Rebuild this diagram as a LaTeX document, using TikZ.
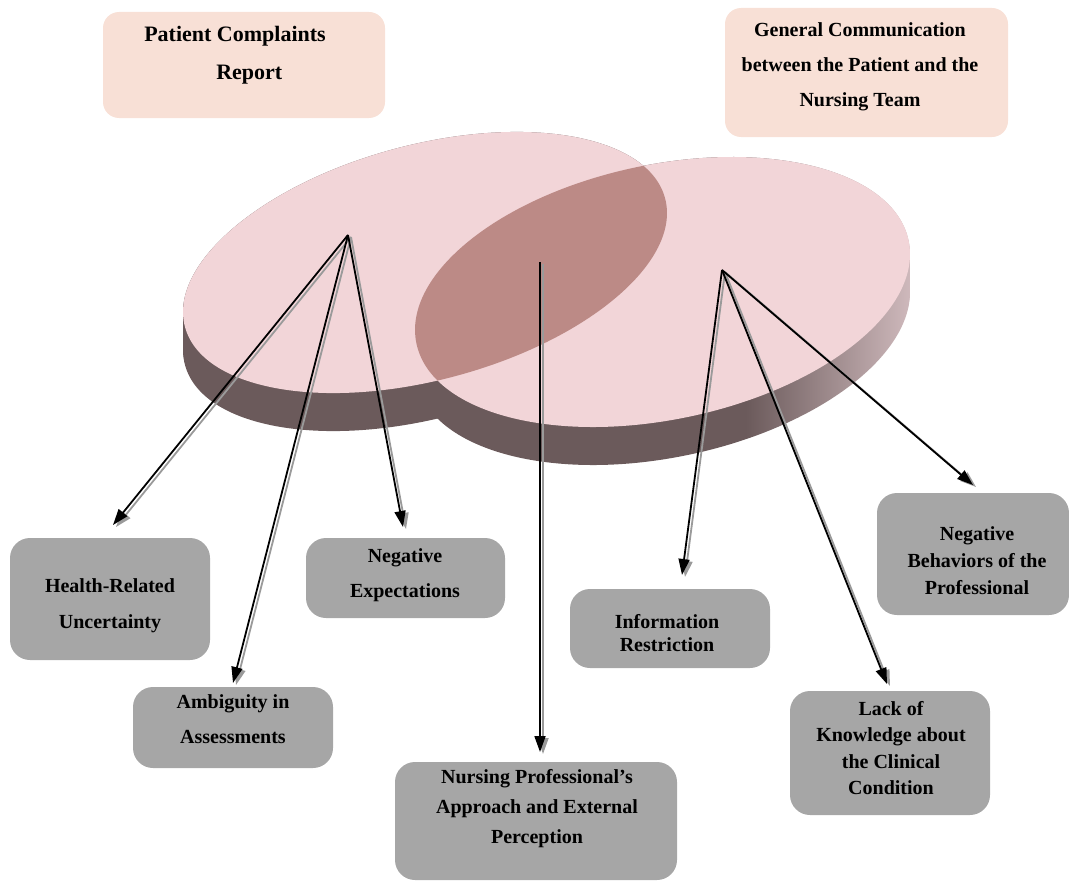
\documentclass[tikz,border=0pt]{standalone}
\usepackage{fontspec}
\setmainfont{Liberation Serif}
\usepackage{xcolor}
\usepackage{tikz}
\usetikzlibrary{arrows.meta}
\usetikzlibrary{calc}
\definecolor{discTop}{HTML}{F2D5D8}
\definecolor{discSide}{HTML}{6B5A5B}
\definecolor{discSideLight}{HTML}{D6C0C3}
\definecolor{discLens}{HTML}{BC8A86}
\definecolor{peach}{HTML}{F8E0D6}
\definecolor{boxgray}{HTML}{A6A6A6}
\definecolor{shadowgray}{HTML}{9A9A9A}
\pgfdeclarehorizontalshading{sideshade}{100bp}{color(0bp)=(discSide); color(25bp)=(discSide); color(58bp)=(discSide); color(75bp)=(discSideLight); color(100bp)=(discSideLight)}
\tikzset{
    topbox/.style={fill=peach, rounded corners=8pt, inner sep=0pt},
    subbox/.style={fill=boxgray, rounded corners=10pt, inner sep=0pt},
    lbl/.style={font=\fontsize{10}{#1}\selectfont\bfseries, align=center, inner sep=0pt},
    lbl/.default=17.5,
    link/.style={-{Triangle[length=8pt,width=5.5pt]}, line width=0.9pt},
    linkshadow/.style={link, draw=shadowgray, fill=shadowgray, transform canvas={shift={(1.5pt,-1pt)}}}}
\begin{document}
\begin{tikzpicture}[x=0.5pt, y=-0.5pt]
\useasboundingbox (0,0) rectangle (1069,883);

\foreach \d in {0,2,...,38}{
  \fill[discSide, rotate around={15:(425,262.5+\d)}] (425,262.5+\d) ellipse [x radius=124.25pt, y radius=58.8pt];
  \shade[shading=sideshade, rotate around={11.8:(662.5,292+\d)}] (662.5,292+\d) ellipse [x radius=125.7pt, y radius=63.75pt];
}
\fill[discTop, rotate around={15:(425,262.5)}] (425,262.5) ellipse [x radius=124.25pt, y radius=58.8pt];
\fill[discTop, rotate around={11.8:(662.5,292)}] (662.5,292) ellipse [x radius=125.7pt, y radius=63.75pt];
\begin{scope}
\clip[rotate around={15:(425,262.5)}] (425,262.5) ellipse [x radius=124.25pt, y radius=58.8pt];
\fill[discLens, rotate around={11.8:(662.5,292)}] (662.5,292) ellipse [x radius=125.7pt, y radius=63.75pt];
\end{scope}

\node[topbox, minimum width=141pt, minimum height=53pt] (reportbox) at (244,65) {};
\node[topbox, minimum width=141.5pt, minimum height=64.5pt] (commbox) at (866.5,72.5) {};
\node[font=\fontsize{11}{19}\selectfont\bfseries, align=left, inner sep=0pt] (report) at (235,55) {Patient Complaints\\\hspace*{36pt}Report};
\node[lbl] (comm) at (860,67) {General Communication\\between the Patient and the\\Nursing Team};

\coordinate (srcL) at (348,235);
\coordinate (srcM) at (540,262);
\coordinate (srcR) at (722,270);
\coordinate (tipHealth) at (113,525);
\coordinate (tipAmbig) at (233,683);
\coordinate (tipNegExp) at (403,527);
\coordinate (tipNursing) at (540,752);
\coordinate (tipInfo) at (682,575);
\coordinate (tipLack) at (887,684);
\coordinate (tipNegBeh) at (973,485);

\draw[linkshadow] (srcL) -- (tipHealth);
\draw[link] (srcL) -- (tipHealth);
\draw[linkshadow] (srcL) -- (tipAmbig);
\draw[link] (srcL) -- (tipAmbig);
\draw[linkshadow] (srcL) -- (tipNegExp);
\draw[link] (srcL) -- (tipNegExp);
\draw[linkshadow] (srcM) -- (tipNursing);
\draw[link] (srcM) -- (tipNursing);
\draw[linkshadow] (srcR) -- (tipInfo);
\draw[link] (srcR) -- (tipInfo);
\draw[linkshadow] (srcR) -- (tipLack);
\draw[link] (srcR) -- (tipLack);
\draw[linkshadow] (srcR) -- (tipNegBeh);
\draw[link] (srcR) -- (tipNegBeh);

\node[subbox, minimum width=100pt, minimum height=61pt] (healthbox) at (110,599) {};
\node[subbox, minimum width=99.5pt, minimum height=40pt] (negexpbox) at (405.5,578) {};
\node[subbox, minimum width=100pt, minimum height=40.5pt] (ambigbox) at (233,727.5) {};
\node[subbox, minimum width=141pt, minimum height=59pt] (nursingbox) at (536,821) {};
\node[subbox, minimum width=100pt, minimum height=39.5pt] (infobox) at (670,628.5) {};
\node[subbox, minimum width=100pt, minimum height=62pt] (lackbox) at (890,753) {};
\node[subbox, minimum width=96pt, minimum height=61pt] (negbehbox) at (973,554) {};

\node[lbl=18] (health) at (110,606) {Health-Related\\Uncertainty};
\node[lbl] (negexp) at (405,575) {Negative\\Expectations};
\node[lbl] (ambig) at (233,719) {Ambiguity in\\Assessments};
\node[lbl=15] (nursing) at (537,809) {Nursing Professional’s\\Approach and External\\Perception};
\node[lbl=11.5] (info) at (667,633) {Information\\Restriction};
\node[lbl=13.3] (lack) at (891,748) {Lack of\\Knowledge about\\the Clinical\\Condition};
\node[lbl=13.5] (negbeh) at (977,561) {Negative\\Behaviors of the\\Professional};
\end{tikzpicture}
\end{document}
